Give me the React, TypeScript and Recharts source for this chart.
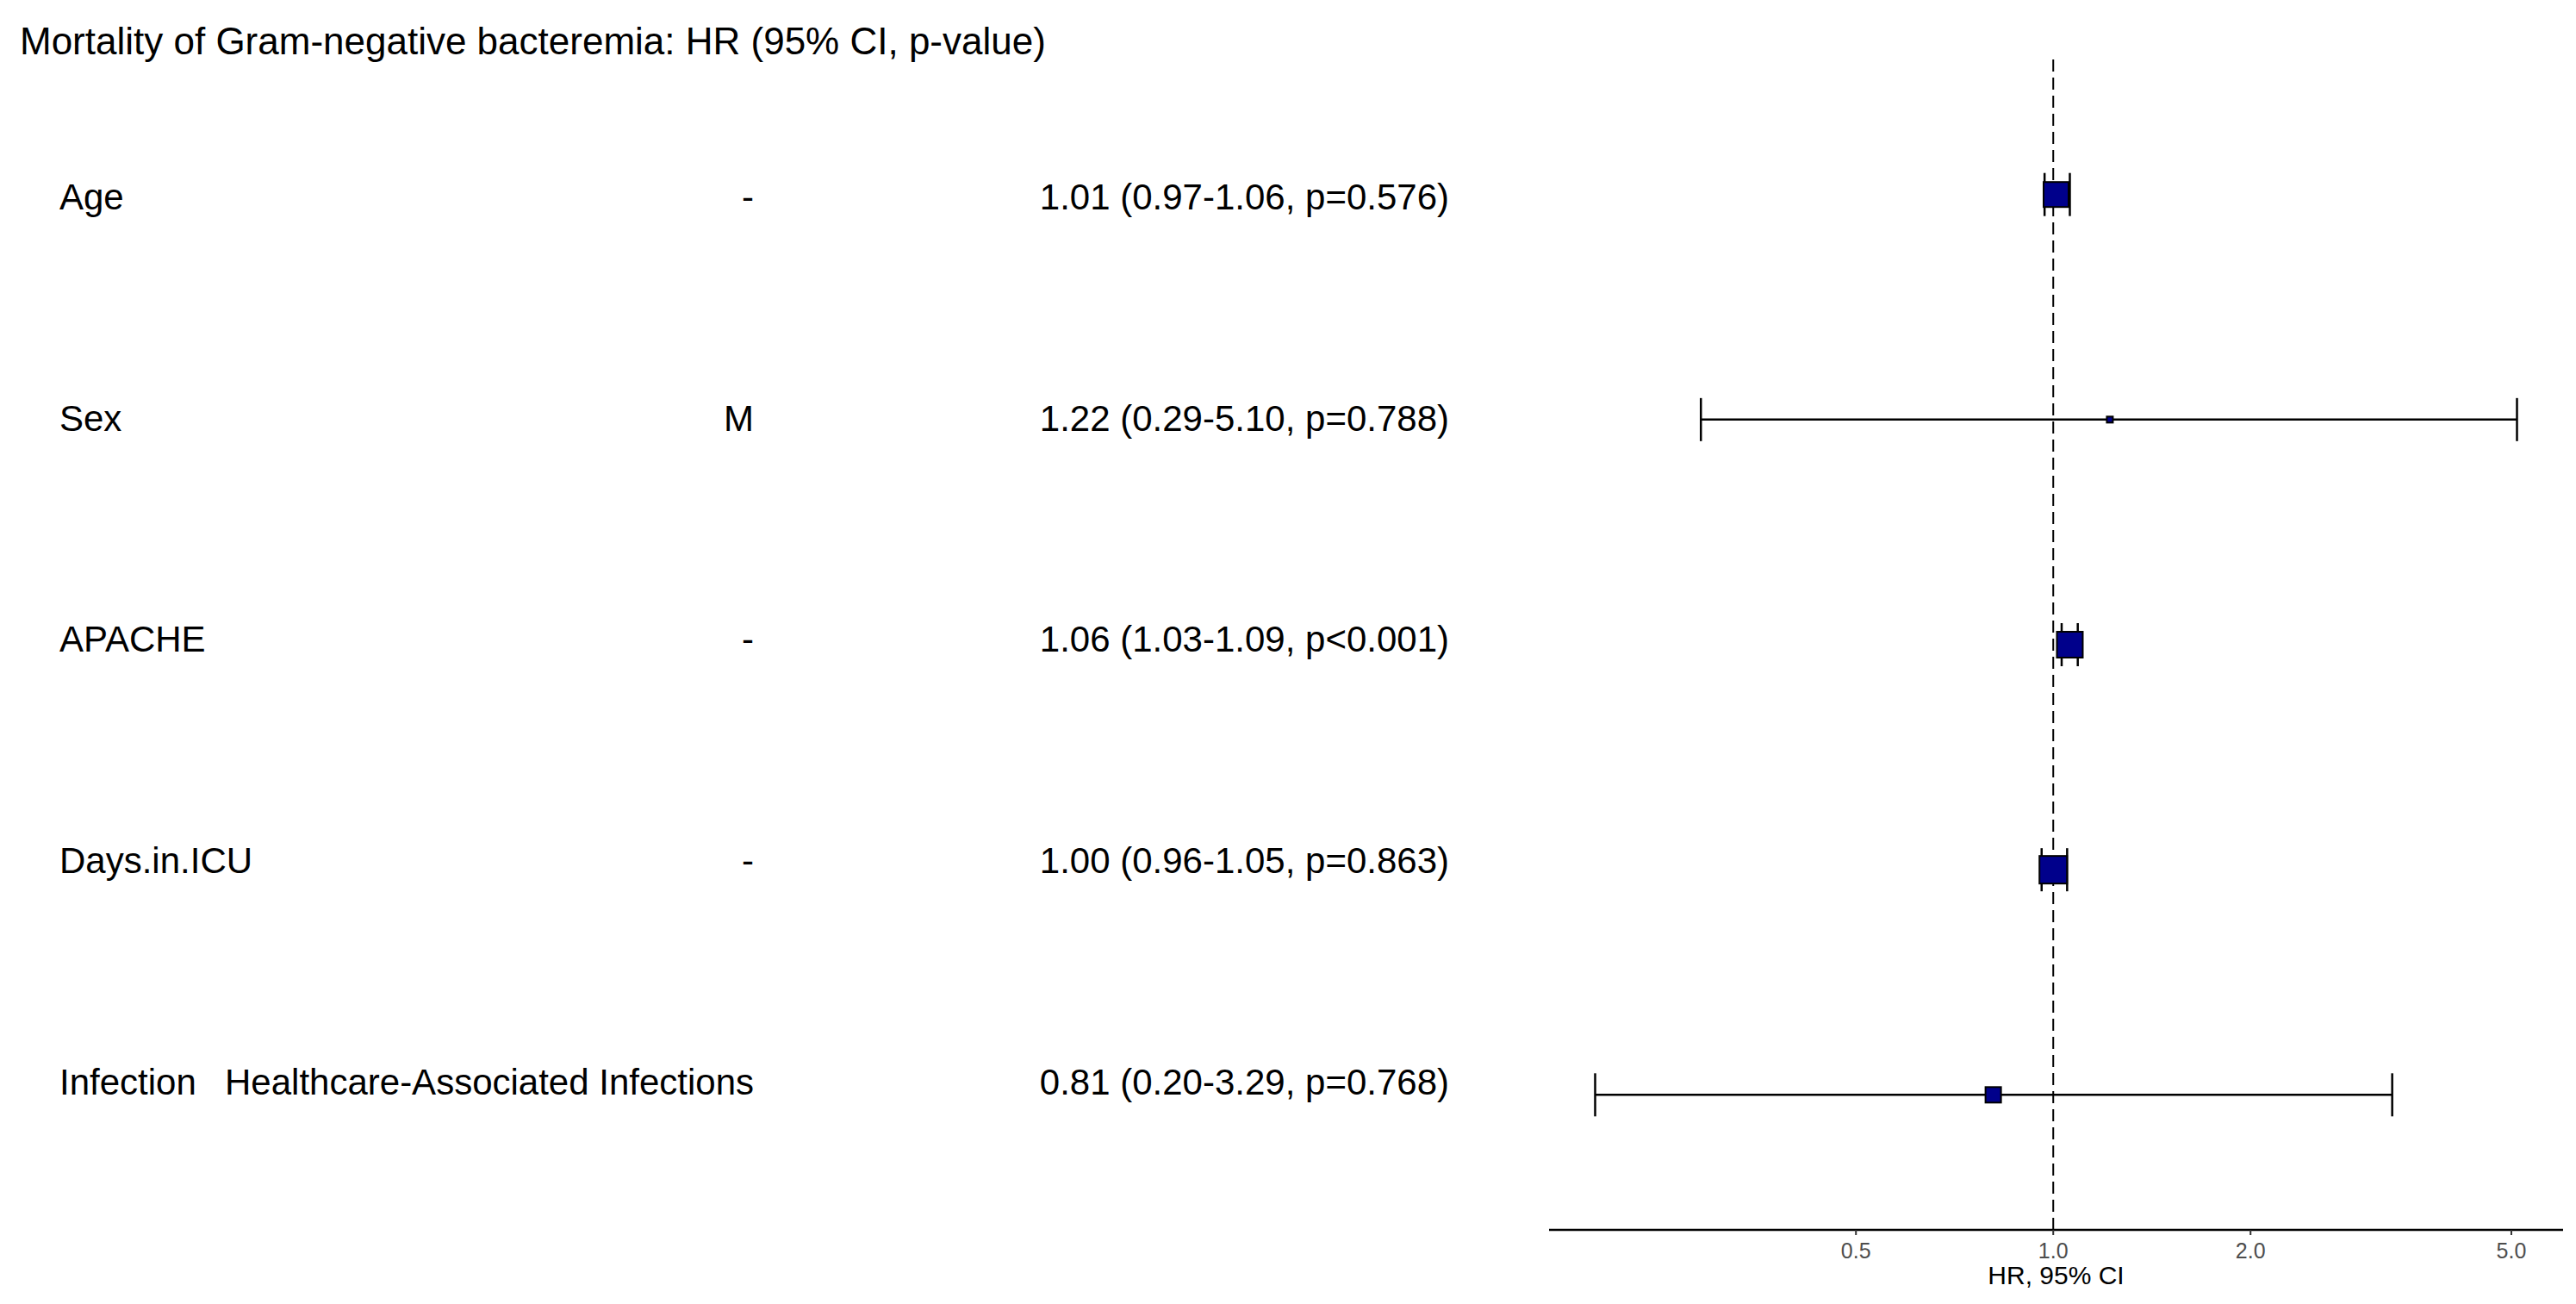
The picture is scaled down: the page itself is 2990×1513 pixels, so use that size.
import React from "react";
import {
  ComposedChart,
  Scatter,
  XAxis,
  YAxis,
  ErrorBar,
  ReferenceLine,
} from "recharts";

// values
const variables = ["Age", "Sex", "APACHE", "Days.in.ICU", "Infection"];
const levels = ["-", "M", "-", "-", "Healthcare-Associated Infections"];
const hr = [1.01, 1.22, 1.06, 1.0, 0.81];
const lower = [0.97, 0.29, 1.03, 0.96, 0.2];
const upper = [1.06, 5.1, 1.09, 1.05, 3.29];
const pValues = ["p=0.576", "p=0.788", "p<0.001", "p=0.863", "p=0.768"];
// relative box weight (drawn as box side)
const boxWeight = [29, 7, 30, 32, 18];
const xTicks = [0.5, 1.0, 2.0, 5.0];

const TITLE = "Mortality of Gram-negative bacteremia: HR (95% CI, p-value)";
const FONT = "'Liberation Sans', Arial, sans-serif";
const NARROW = "'Liberation Sans Narrow', 'Arial Narrow', 'Liberation Sans', sans-serif";

const rows = variables.map((v, i) => ({
  row: i,
  variable: v,
  level: levels[i],
  hr: hr[i],
  err: [hr[i] - lower[i], upper[i] - hr[i]],
  label: `${hr[i].toFixed(2)} (${lower[i].toFixed(2)}-${upper[i].toFixed(2)}, ${pValues[i]})`,
  weight: boxWeight[i],
}));

// ggplot-like 5% expansion on the log scale
const logLo = Math.log10(Math.min(...lower));
const logHi = Math.log10(Math.max(...upper));
const pad = (logHi - logLo) * 0.05;
const xDomain = [10 ** (logLo - pad), 10 ** (logHi + pad)];

const Box = (props: any) => {
  const { cx, cy, payload } = props;
  if (cx == null || cy == null) return <g />;
  const s = payload.weight;
  return (
    <rect
      x={cx - s / 2}
      y={cy - s / 2}
      width={s}
      height={s}
      fill="#00008B"
      stroke="#000"
      strokeWidth={2}
    />
  );
};

const TableTick = (props: any) => {
  const { y, payload } = props;
  const r = rows[payload.value];
  if (!r) return null;
  return (
    <g fontFamily={FONT} fontSize={42} fill="#000">
      <text x={69} y={y} dy="0.355em" textAnchor="start">
        {r.variable}
      </text>
      <text x={875} y={y} dy="0.355em" textAnchor="end">
        {r.level}
      </text>
      <text x={1682} y={y} dy="0.355em" textAnchor="end">
        {r.label}
      </text>
    </g>
  );
};

export default function App() {
  return (
    <div
      style={{
        position: "absolute",
        left: 0,
        top: 0,
        width: 2990,
        height: 1513,
        background: "#fff",
      }}
    >
      <svg
        width={2990}
        height={1513}
        style={{ position: "absolute", left: 0, top: 0, pointerEvents: "none" }}
      >
        <text x={23} y={63} fontFamily={FONT} fontSize={44} fill="#000">
          {TITLE}
        </text>
      </svg>
      <ComposedChart
        width={2990}
        height={1513}
        data={rows}
        margin={{ top: 69, right: 15, bottom: 0, left: 0 }}
        style={{ position: "absolute", left: 0, top: 0 }}
      >
        <XAxis
          dataKey="hr"
          type="number"
          scale="log"
          domain={xDomain}
          allowDataOverflow
          ticks={xTicks}
          tickFormatter={(v: number) => v.toFixed(1)}
          height={86}
          axisLine={{ stroke: "#000", strokeWidth: 2.5 }}
          tickLine={{ stroke: "#333", strokeWidth: 2 }}
          tickSize={6}
          tickMargin={9}
          tick={{ fill: "#4D4D4D", fontSize: 25, fontFamily: NARROW }}
          label={{
            value: "HR, 95% CI",
            position: "insideTop",
            offset: 42,
            fill: "#000",
            fontSize: 30,
            fontFamily: NARROW,
          }}
        />
        <YAxis
          yAxisId="table"
          dataKey="row"
          type="number"
          domain={[-0.618, 4.669]}
          allowDataOverflow
          reversed
          ticks={[0, 1, 2, 3, 4]}
          width={1798}
          axisLine={false}
          tickLine={false}
          tick={<TableTick />}
        />
        <YAxis
          yAxisId="forest"
          dataKey="row"
          type="number"
          domain={[-0.6, 4.6]}
          allowDataOverflow
          reversed
          hide
        />
        <ReferenceLine
          x={1}
          yAxisId="forest"
          stroke="#000"
          strokeWidth={2}
          strokeDasharray="14 7"
        />
        <Scatter
          yAxisId="table"
          data={rows}
          shape={() => <g />}
          isAnimationActive={false}
        />
        <Scatter
          yAxisId="forest"
          data={rows}
          shape={<Box />}
          isAnimationActive={false}
        >
          <ErrorBar
            dataKey="err"
            direction="x"
            width={25}
            stroke="#000"
            strokeWidth={2.5}
          />
        </Scatter>
      </ComposedChart>
    </div>
  );
}
